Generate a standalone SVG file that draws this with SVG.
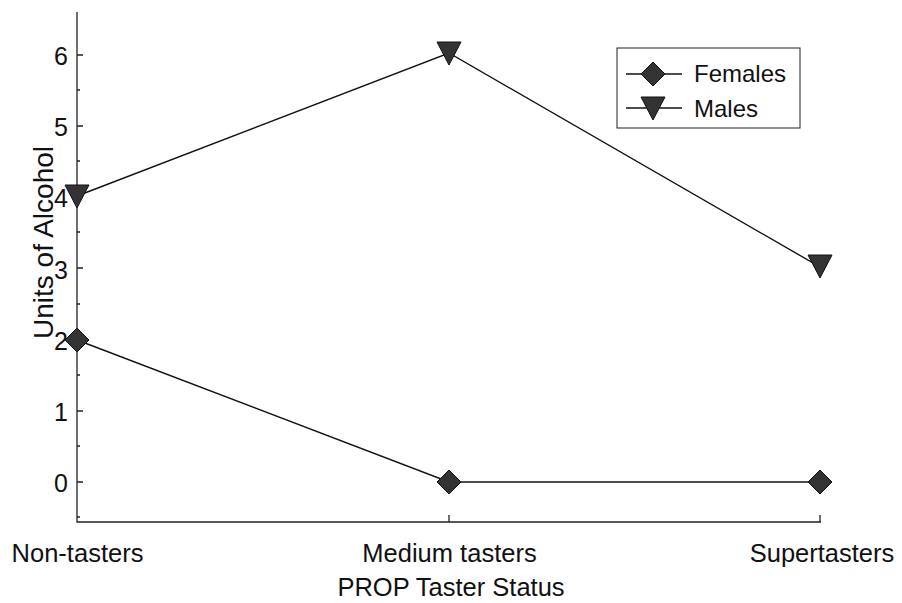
<svg xmlns="http://www.w3.org/2000/svg" width="902" height="603" viewBox="0 0 902 603">
<style>
text{font-family:"Liberation Sans",Arial,sans-serif;fill:#111}
.tl{font-size:25px;text-anchor:end}
.xl{font-size:25.5px;text-anchor:middle}
.ax{stroke:#222;stroke-width:1.3;fill:none}
.ln{stroke:#111;stroke-width:1.4;fill:none}
.mk{fill:#333;stroke:#111;stroke-width:1}
</style>
<defs>
<path id="dia" d="M0,-12 L12,0 L0,12 L-12,0 Z"/>
<path id="tri" d="M-12,-11 L12,-11 L0,12 Z"/>
</defs>
<g id="axes">
<path class="ax" d="M77,12 V522 H821 M449,522 V515 M820,522 V515"/>
<path class="ax" d="M77,55 h6 M77,126 h6 M77,197 h6 M77,268 h6 M77,340 h6 M77,411 h6 M77,482 h6 M77,90 h3 M77,161 h3 M77,232 h3 M77,304 h3 M77,375 h3 M77,446 h3 M77,517 h3"/>
<text class="tl" x="68" y="65">6</text>
<text class="tl" x="68" y="136">5</text>
<text class="tl" x="68" y="207">4</text>
<text class="tl" x="68" y="279">3</text>
<text class="tl" x="68" y="350">2</text>
<text class="tl" x="68" y="421">1</text>
<text class="tl" x="68" y="492">0</text>
<text class="xl" x="77.5" y="562">Non-tasters</text>
<text class="xl" x="449.5" y="562">Medium tasters</text>
<text class="xl" x="822" y="562">Supertasters</text>
<text class="xl" x="451" y="596" font-size="27">PROP Taster Status</text>
<text transform="translate(53,339) rotate(-90)" font-size="28">Units of Alcohol</text>
</g>
<g id="connectors">
<polyline class="ln" points="77,196 449,53 820,267"/>
<polyline class="ln" points="77,340 449,482 820,482"/>
</g>
<g id="females">
<use href="#dia" class="mk" x="77" y="340"/>
<use href="#dia" class="mk" x="449" y="482"/>
<use href="#dia" class="mk" x="820" y="482"/>
</g>
<g id="males">
<use href="#tri" class="mk" x="77" y="196"/>
<use href="#tri" class="mk" x="449" y="53"/>
<use href="#tri" class="mk" x="820" y="266"/>
</g>
<g id="legend">
<rect x="617" y="48" width="183" height="80" fill="#fff" stroke="#222" stroke-width="1"/>
<line class="ln" x1="626" y1="74" x2="682" y2="74"/>
<use href="#dia" class="mk" x="653" y="74"/>
<text x="694" y="82" font-size="24">Females</text>
<line class="ln" x1="626" y1="108" x2="682" y2="108"/>
<use href="#tri" class="mk" x="653" y="108"/>
<text x="694" y="117" font-size="24">Males</text>
</g>
</svg>
